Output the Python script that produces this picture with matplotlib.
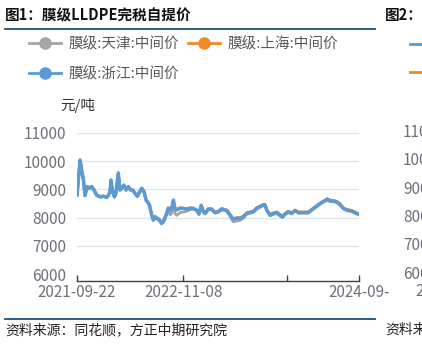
import matplotlib
matplotlib.use('Agg')
import matplotlib.pyplot as plt
import pandas as pd
from matplotlib.lines import Line2D

plt.rcParams['font.family'] = ['Noto Sans CJK SC', 'DejaVu Sans']

# sample dates and prices (元/吨)
dates = ['2021-09-22', '2021-10-04', '2021-10-10', '2021-10-17', '2021-10-23', '2021-11-01',
         '2021-11-09', '2021-11-18', '2021-11-27', '2021-12-07', '2021-12-20', '2022-01-02',
         '2022-01-09', '2022-01-15', '2022-01-22', '2022-01-28', '2022-02-01', '2022-02-07',
         '2022-02-14', '2022-02-20', '2022-03-01', '2022-03-08', '2022-03-14', '2022-03-23',
         '2022-03-31', '2022-04-09', '2022-04-18', '2022-04-26', '2022-05-05', '2022-05-14',
         '2022-05-24', '2022-05-31', '2022-06-09', '2022-06-17', '2022-06-23', '2022-06-30',
         '2022-07-09', '2022-07-15', '2022-07-22', '2022-07-28', '2022-08-07', '2022-08-16',
         '2022-08-23', '2022-08-29', '2022-09-05', '2022-09-11', '2022-09-18', '2022-09-24',
         '2022-10-01', '2022-10-07', '2022-10-14', '2022-10-27', '2022-11-09', '2022-11-21',
         '2022-12-04', '2022-12-17', '2022-12-30', '2023-01-08', '2023-01-17', '2023-01-25',
         '2023-02-01', '2023-02-13', '2023-02-26', '2023-03-11', '2023-03-24', '2023-04-06',
         '2023-04-19', '2023-04-26', '2023-05-09', '2023-05-21', '2023-06-03', '2023-06-16',
         '2023-06-29', '2023-07-12', '2023-07-25', '2023-08-07', '2023-08-20', '2023-09-02',
         '2023-09-15', '2023-09-21', '2023-09-28', '2023-10-11', '2023-10-24', '2023-11-06',
         '2023-11-19', '2023-11-28', '2023-12-08', '2023-12-21', '2024-01-03', '2024-01-16',
         '2024-01-29', '2024-02-11', '2024-02-23', '2024-03-07', '2024-03-20', '2024-04-02',
         '2024-04-15', '2024-04-28', '2024-05-11', '2024-05-20', '2024-05-30', '2024-06-12',
         '2024-06-25', '2024-07-08', '2024-07-21', '2024-08-03', '2024-08-16', '2024-08-29',
         '2024-09-11', '2024-09-20']

tianjin = [8800, 10000, 9650, 9300, 8780, 9080, 9020, 9080, 8960, 8780, 8720, 8740,
           8720, 8700, 8780, 8900, 9300, 8900, 8720, 8840, 9550, 8960, 9020, 9130,
           8960, 9080, 8960, 8960, 8840, 8740, 8900, 9020, 8900, 8600, 8540, 8430,
           8070, 7900, 8010, 7960, 7900, 7780, 7840, 7960, 8120, 8280, 8100, 8150,
           8450, 8150, 8080, 8180, 8200, 8220, 8280, 8300, 8250, 8130, 8380, 8190,
           8130, 8270, 8280, 8160, 8190, 8270, 8250, 8230, 8050, 7850, 7880, 7900,
           7980, 8120, 8160, 8190, 8300, 8370, 8430, 8430, 8250, 8060, 8120, 8150,
           8050, 8000, 8100, 8190, 8130, 8230, 8160, 8160, 8160, 8160, 8250, 8340,
           8430, 8510, 8580, 8620, 8570, 8560, 8540, 8450, 8310, 8250, 8230, 8190,
           8130, 8100]

shanghai = [8800, 10030, 9680, 9330, 8780, 9100, 9040, 9100, 8980, 8800, 8740, 8760,
            8740, 8720, 8800, 8920, 9330, 8920, 8740, 8860, 9580, 8980, 9040, 9150,
            8980, 9100, 8980, 8980, 8860, 8760, 8920, 9040, 8920, 8620, 8560, 8450,
            8100, 7950, 8050, 8000, 7950, 7820, 7880, 8000, 8170, 8350, 8290, 8350,
            8600, 8350, 8300, 8350, 8330, 8320, 8350, 8330, 8250, 8100, 8450, 8220,
            8170, 8320, 8320, 8200, 8230, 8330, 8290, 8270, 8110, 7960, 8000, 8000,
            8050, 8170, 8200, 8240, 8350, 8410, 8470, 8470, 8290, 8110, 8170, 8200,
            8110, 8050, 8150, 8230, 8170, 8270, 8200, 8200, 8200, 8200, 8290, 8380,
            8470, 8550, 8620, 8670, 8620, 8610, 8580, 8500, 8350, 8290, 8270, 8230,
            8170, 8140]

zhejiang = [8800, 10035, 9680, 9330, 8780, 9100, 9040, 9100, 8980, 8800, 8740, 8760,
            8740, 8720, 8800, 8920, 9330, 8920, 8740, 8860, 9580, 8980, 9040, 9150,
            8980, 9100, 8980, 8980, 8860, 8760, 8920, 9040, 8920, 8620, 8560, 8450,
            8090, 7920, 8030, 7980, 7920, 7800, 7860, 7980, 8150, 8330, 8270, 8330,
            8620, 8330, 8270, 8330, 8330, 8300, 8330, 8330, 8270, 8150, 8430, 8210,
            8150, 8300, 8300, 8180, 8210, 8300, 8270, 8250, 8090, 7940, 7980, 7980,
            8030, 8150, 8180, 8210, 8330, 8390, 8450, 8450, 8270, 8090, 8150, 8180,
            8090, 8030, 8130, 8210, 8150, 8250, 8180, 8180, 8180, 8180, 8270, 8360,
            8450, 8530, 8600, 8650, 8600, 8590, 8560, 8470, 8330, 8270, 8250, 8210,
            8150, 8120]

labels = ['膜级:天津:中间价', '膜级:上海:中间价', '膜级:浙江:中间价']
colors = ['#A5A5A5', '#F08A24', '#5B9BD5']
tick_dates = ['2021-09-22', '2022-11-08', '2023-12-17', '2024-09-20']
tick_labels = ['2021-09-22', '2022-11-08', '', '2024-09-']
yticks = [6000, 7000, 8000, 9000, 10000, 11000]

x = pd.to_datetime(dates)
W, H = 422, 351
fig = plt.figure(figsize=(W / 100, H / 100), dpi=100)
ax = fig.add_axes([77 / W, 1 - 274.3 / H, 282 / W, 141.6 / H])

for series, c, lw in zip([tianjin, shanghai, zhejiang], colors, [2.0, 2.0, 2.5]):
    ax.plot(x, series, color=c, lw=lw, solid_joinstyle='round')

ax.set_ylim(6000, 11000)
ax.set_xlim(pd.Timestamp(tick_dates[0]), pd.Timestamp(tick_dates[-1]))
ax.set_yticks(yticks)
ax.set_yticklabels([str(v) for v in yticks])
for v in yticks[1:]:
    ax.axhline(v, color='#E0E3EB', lw=1.0, zorder=0)
ax.set_xticks(pd.to_datetime(tick_dates))
ax.set_xticklabels(tick_labels)

for s in ['top', 'right', 'left']:
    ax.spines[s].set_visible(False)
ax.spines['bottom'].set_position(('outward', 5))
ax.spines['bottom'].set_color('#404040')
ax.spines['bottom'].set_linewidth(1.0)
ax.tick_params(axis='x', direction='in', length=4.5, width=1.0, color='#404040',
               labelsize=11, labelcolor='#6E7079', pad=2)
ax.tick_params(axis='y', length=0, labelsize=11, labelcolor='#6E7079', pad=8)

fig.text(60 / W, 1 - 105 / H, '元/吨', fontsize=10.5, color='#333333', va='center')

# legend: row 1 天津, 上海; row 2 浙江 (legend fills column by column)
handles = [Line2D([], [], color=c, lw=2, marker='o', markersize=8) for c in colors]
order = [0, 2, 1]
fig.legend([handles[i] for i in order], [labels[i] for i in order], ncol=2,
           loc='upper left', bbox_to_anchor=(29 / W, 1 - 37 / H),
           frameon=False, fontsize=10.5, labelcolor='#595959', handlelength=2.2,
           handletextpad=0.5, columnspacing=0.6, labelspacing=1.05, borderpad=0,
           borderaxespad=0)

# title and footer
fig.text(5 / W, 1 - 15 / H, '图1：膜级LLDPE完税自提价', fontsize=10.5, fontweight='bold',
         color='#111111', va='center')
fig.text(385 / W, 1 - 15 / H, '图2：', fontsize=10.5, fontweight='bold',
         color='#111111', va='center')
fig.add_artist(Line2D([5 / W, 375 / W], [1 - 29 / H, 1 - 29 / H], color='#1F4E79', lw=1.3))
fig.add_artist(Line2D([5 / W, 375 / W], [1 - 319 / H, 1 - 319 / H], color='#1F4E79', lw=1.3))
fig.text(5 / W, 1 - 330 / H, '资料来源：同花顺，方正中期研究院', fontsize=10, style='italic',
         color='#222222', va='center')
fig.text(385 / W, 1 - 330 / H, '资料来源', fontsize=10, style='italic',
         color='#222222', va='center')

# edge of the neighbouring chart
for v in yticks:
    yy = 1 - (274.3 - (v - 6000) / 1000 * 28.33) / H
    fig.text(403 / W, yy, str(v), fontsize=11, color='#6E7079', va='center')
fig.text(415 / W, 1 - 291 / H, '2024', fontsize=11, color='#6E7079', va='center')
for yy, c in zip([44, 72], [colors[2], colors[1]]):
    fig.add_artist(Line2D([410 / W, 440 / W], [1 - yy / H, 1 - yy / H], color=c, lw=2))

fig.savefig('out.png', dpi=100)
